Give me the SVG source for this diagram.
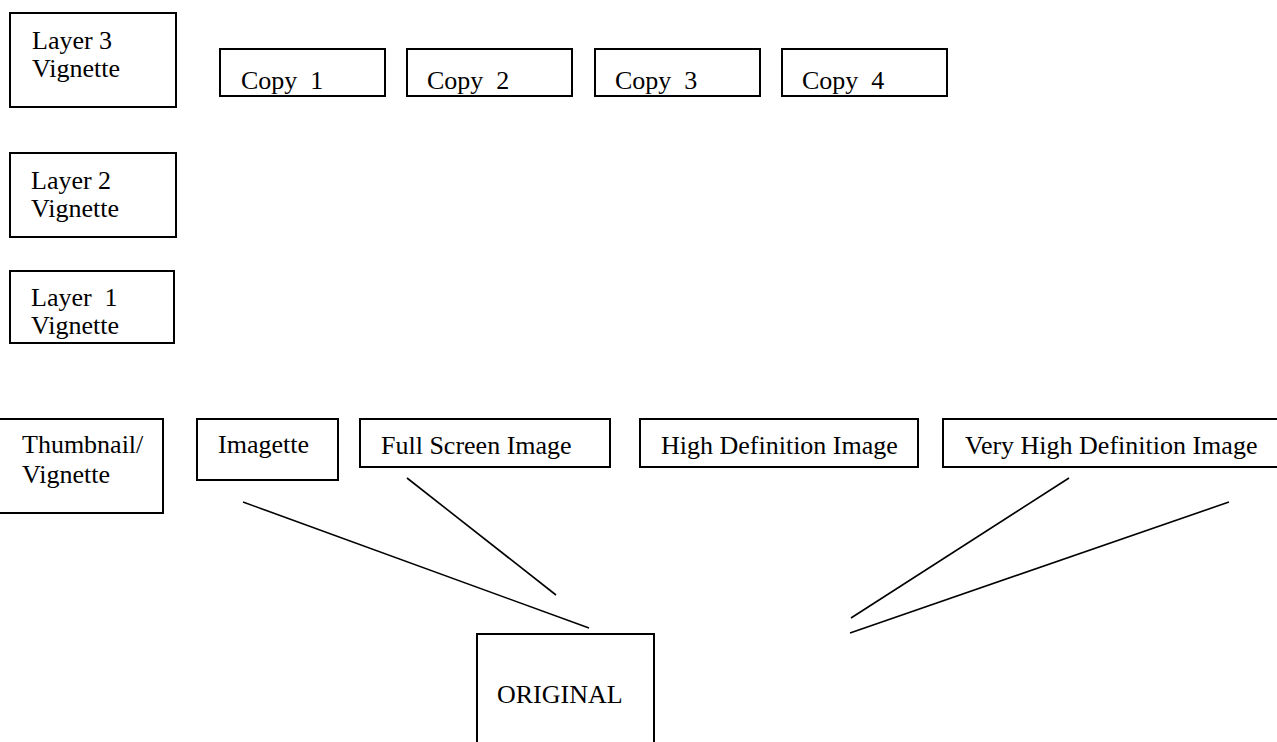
<svg xmlns="http://www.w3.org/2000/svg" width="1277" height="742" viewBox="0 0 1277 742">
<style>
.box{fill:#fff;stroke:#000;stroke-width:2}
.t{font-family:"Liberation Serif","Times New Roman",serif;font-size:26px;fill:#000;white-space:pre}
.c{stroke:#000;stroke-width:1.6;fill:none}
</style>
<rect x="0" y="0" width="1277" height="742" fill="#fff"/>
<g id="layer3"><rect class="box" x="10" y="13" width="166" height="94"/><text class="t" x="32" y="49">Layer 3</text><text class="t" x="32" y="77">Vignette</text></g>
<g id="copy1"><rect class="box" x="220" y="49" width="165" height="47"/><text class="t" x="241" y="89" xml:space="preserve">Copy  1</text></g>
<g id="copy2"><rect class="box" x="407" y="49" width="165" height="47"/><text class="t" x="427" y="89" xml:space="preserve">Copy  2</text></g>
<g id="copy3"><rect class="box" x="595" y="49" width="165" height="47"/><text class="t" x="615" y="89" xml:space="preserve">Copy  3</text></g>
<g id="copy4"><rect class="box" x="782" y="49" width="165" height="47"/><text class="t" x="802" y="89" xml:space="preserve">Copy  4</text></g>
<g id="layer2"><rect class="box" x="10" y="153" width="166" height="84"/><text class="t" x="31" y="189">Layer 2</text><text class="t" x="31" y="217">Vignette</text></g>
<g id="layer1"><rect class="box" x="10" y="271" width="164" height="72"/><text class="t" x="31" y="306" xml:space="preserve">Layer  1</text><text class="t" x="31" y="334">Vignette</text></g>
<g id="thumbnail"><rect class="box" x="-2" y="419" width="165" height="94"/><text class="t" x="22" y="453">Thumbnail/</text><text class="t" x="22" y="483">Vignette</text></g>
<g id="imagette"><rect class="box" x="197" y="419" width="141" height="61"/><text class="t" x="218" y="453">Imagette</text></g>
<g id="fullscreen"><rect class="box" x="360" y="419" width="250" height="48"/><text class="t" x="381" y="454">Full Screen Image</text></g>
<g id="highdef"><rect class="box" x="640" y="419" width="278" height="48"/><text class="t" x="661" y="454">High Definition Image</text></g>
<g id="veryhighdef"><rect class="box" x="943" y="419" width="336" height="48"/><text class="t" x="965" y="454">Very High Definition Image</text></g>
<g id="original"><rect class="box" x="477" y="634" width="177" height="120"/><text class="t" x="497" y="703">ORIGINAL</text></g>
<g id="connectors">
<line class="c" x1="243" y1="502" x2="589" y2="628"/>
<line class="c" x1="407" y1="478" x2="556" y2="595"/>
<line class="c" x1="1069" y1="478" x2="851" y2="618"/>
<line class="c" x1="1229" y1="502" x2="850" y2="633"/>
</g>
</svg>
